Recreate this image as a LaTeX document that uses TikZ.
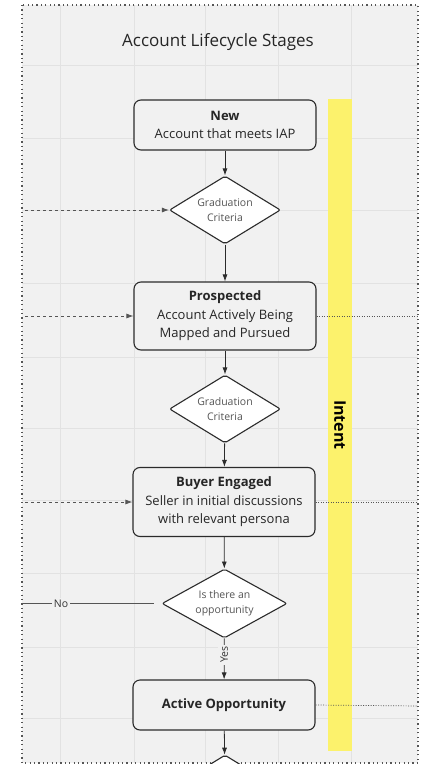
\documentclass[tikz,border=0pt]{standalone}
\usepackage{fontspec}
\setmainfont{Open Sans}
\usetikzlibrary{arrows.meta,shapes.geometric,positioning}
\definecolor{canvas}{HTML}{F1F1F1}
\definecolor{gridline}{HTML}{E2E2E2}
\definecolor{marker}{HTML}{FCF26C}
\definecolor{edge}{HTML}{2B2B2B}
\definecolor{note}{HTML}{555555}

\begin{document}
\begin{tikzpicture}[x=1pt,y=-1pt,
  stage/.style={draw=edge,line width=1.1pt,rounded corners=7pt,fill=canvas,
    minimum width=182pt,align=center,font=\fontsize{13}{18.5}\selectfont,text=black!85},
  gate/.style={diamond,draw=edge,line width=1.1pt,rounded corners=2pt,fill=white,
    aspect=1.63,minimum width=111pt,minimum height=68pt,inner sep=0pt,
    align=center,font=\fontsize{10.5}{14.5}\selectfont,text=note},
  arr/.style={draw=edge,line width=0.8pt,-{Latex[length=7pt,width=5pt]}},
  feed/.style={draw=note,line width=0.8pt,dash pattern=on 3pt off 3pt,-{Latex[length=7pt,width=5pt]}},
  tap/.style={draw=note,line width=0.7pt,dash pattern=on 1pt off 1.5pt},
  tag/.style={fill=canvas,inner sep=2pt,font=\fontsize{10.5}{12}\selectfont,text=black!80}]
\useasboundingbox (0,0) rectangle (423,765);
\fill[white] (0,0) rectangle (423,765);
\fill[canvas] (22,5) rectangle (418,763);
\foreach \x in {60,134,205,278,351}
  \draw[gridline,line width=0.5pt] (\x,5) -- (\x,763);
\foreach \y in {65,138,210,283,357,428,500,573,647,718}
  \draw[gridline,line width=0.5pt] (22,\y) -- (418,\y);
\draw[note,line width=1.2pt,dash pattern=on 1.2pt off 3.2pt] (22,5) rectangle (418,763);

\node[font=\fontsize{17}{20}\selectfont,text=black!85] (title) at (218,42) {Account Lifecycle Stages};
\node[fill=marker,rotate=-90,minimum width=652pt,minimum height=24pt,inner sep=0pt,
  font=\fontsize{16}{18}\selectfont\bfseries] (intent) at (340,425) {Intent};

\node[stage,minimum height=50pt] (new) at (225,125) {\textbf{New}\\Account that meets IAP};
\node[gate] (grad1) at (225,210) {Graduation\\Criteria};
\node[stage,minimum height=68pt] (prosp) at (225,316) {\textbf{Prospected}\\Account Actively Being\\Mapped and Pursued};
\node[gate] (grad2) at (225,409) {Graduation\\Criteria};
\node[stage,minimum height=69pt] (buyer) at (224,502) {\textbf{Buyer Engaged}\\Seller in initial discussions\\with relevant persona};
\node[gate,minimum width=125pt,minimum height=69pt,aspect=1.8] (opp) at (224.5,603.5) {Is there an\\opportunity};
\node[stage,minimum height=50pt] (active) at (224,705) {\textbf{Active Opportunity}};
\begin{scope}
  \clip (22,5) rectangle (418,763);
  \node[gate] (grad3) at (225,789) {};
\end{scope}

\coordinate (in1) at (25,210);
\coordinate (in2) at (25,316);
\coordinate (in3) at (25,502);
\coordinate (nofree) at (22,603.5);
\coordinate (out1) at (418,316);
\coordinate (out2) at (418,502);
\coordinate (out3) at (418,706);

\draw[arr] (new) -- (grad1);
\draw[arr] (grad1) -- (prosp);
\draw[arr] (prosp) -- (grad2);
\draw[arr] (grad2) -- (buyer);
\draw[arr] (buyer) -- (opp);
\draw[arr] (opp) -- node[tag,rotate=90,pos=0.4] {Yes} (active);
\draw[arr] (active) -- (grad3);
\draw[draw=note,line width=0.8pt,shorten >=7pt] (nofree) -- node[tag,pos=0.28] {No} (opp.west);

\draw[feed] (in1) -- (grad1.west);
\draw[feed] (in2) -- (prosp.west);
\draw[feed] (in3) -- (buyer.west);
\draw[tap] (prosp.east) -- (out1);
\draw[tap] (buyer.east) -- (out2);
\draw[tap] (active.east) -- (out3);
\end{tikzpicture}
\end{document}
